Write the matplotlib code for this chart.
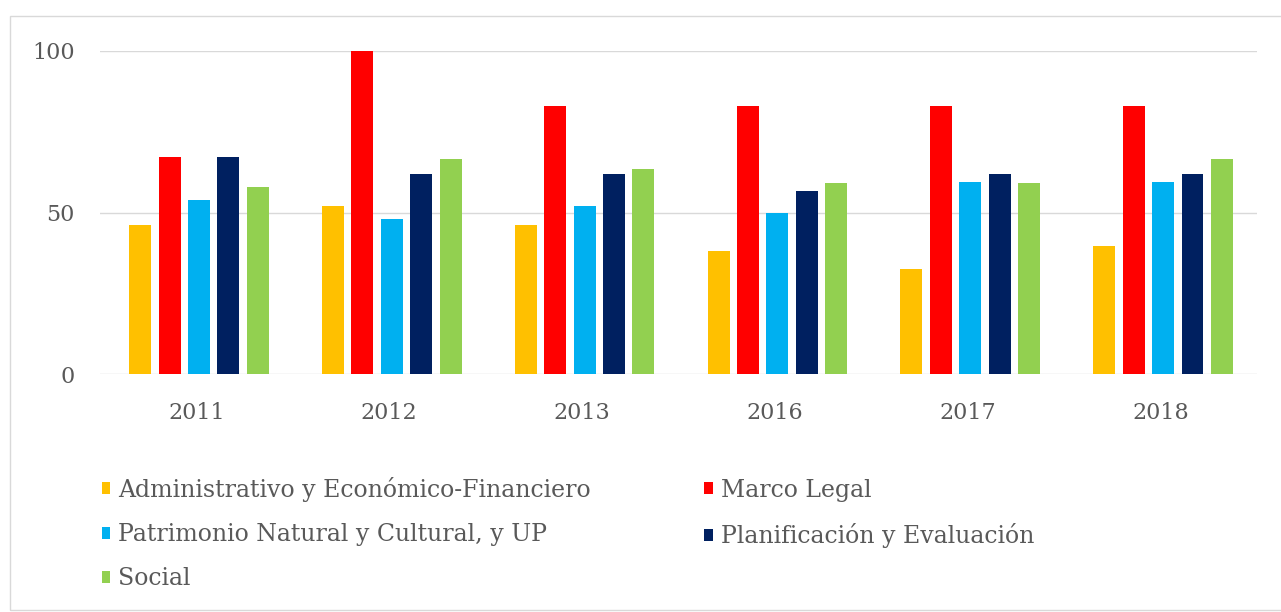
import matplotlib
matplotlib.use("Agg")
import matplotlib.pyplot as plt
import numpy as np
from matplotlib.patches import Rectangle

# datos
anios = ["2011", "2012", "2013", "2016", "2017", "2018"]
series = [
    "Administrativo y Económico-Financiero",
    "Marco Legal",
    "Patrimonio Natural y Cultural, y UP",
    "Planificación y Evaluación",
    "Social",
]
admin = [46, 52, 46, 38, 32.5, 39.5]
marco = [67, 100, 83, 83, 83, 83]
patrimonio = [54, 48, 52, 50, 59.5, 59.5]
planif = [67, 62, 62, 56.5, 62, 62]
social = [58, 66.5, 63.5, 59, 59, 66.5]
colores = ["#FFC000", "#FF0000", "#00B0F0", "#002060", "#92D050"]

valores = [admin, marco, patrimonio, planif, social]

plt.rcParams["font.family"] = ["DejaVu Serif"]
gris = "#595959"

fig = plt.figure(figsize=(12.81, 6.12), dpi=100)
ax = fig.add_axes([100 / 1281, 1 - 374.3 / 612, 1157 / 1281, (374.3 - 50.7) / 612])

x = np.arange(len(anios))
paso = 0.1525
ancho = 0.114
barras = []
for i, (nombre, vals) in enumerate(zip(series, valores)):
    b = ax.bar(x + (i - 2) * paso + 0.013, vals, width=ancho, color=colores[i], label=nombre, zorder=3)
    barras.append(b)

ax.set_xlim(-0.5, len(anios) - 0.5)
ax.set_ylim(0, 100)
ax.set_yticks([0, 50, 100])
ax.set_xticks(x)
ax.set_xticklabels(anios)
ax.grid(axis="y", color="#D9D9D9", linewidth=1, zorder=0)
for s in ax.spines.values():
    s.set_visible(False)
ax.tick_params(axis="both", length=0, colors=gris, labelsize=16)
ax.tick_params(axis="y", pad=18)
ax.tick_params(axis="x", pad=20)

# orden de la leyenda (columnas)
orden = [0, 2, 4, 1, 3]
fig.legend([barras[k] for k in orden], [series[k] for k in orden],
           loc="upper left", bbox_to_anchor=(90 / 1281, 1 - 465 / 612),
           ncol=2, frameon=False, fontsize=17, labelcolor=gris,
           handlelength=0.35, handleheight=0.4, handletextpad=0.35,
           columnspacing=4.8, labelspacing=0.9, borderpad=0)

fig.patches.append(Rectangle((10 / 1281, 2 / 612), 1.1, (610 - 16) / 612,
                             transform=fig.transFigure, fill=False,
                             edgecolor="#D9D9D9", linewidth=1))

fig.savefig("out.png", dpi=100)
